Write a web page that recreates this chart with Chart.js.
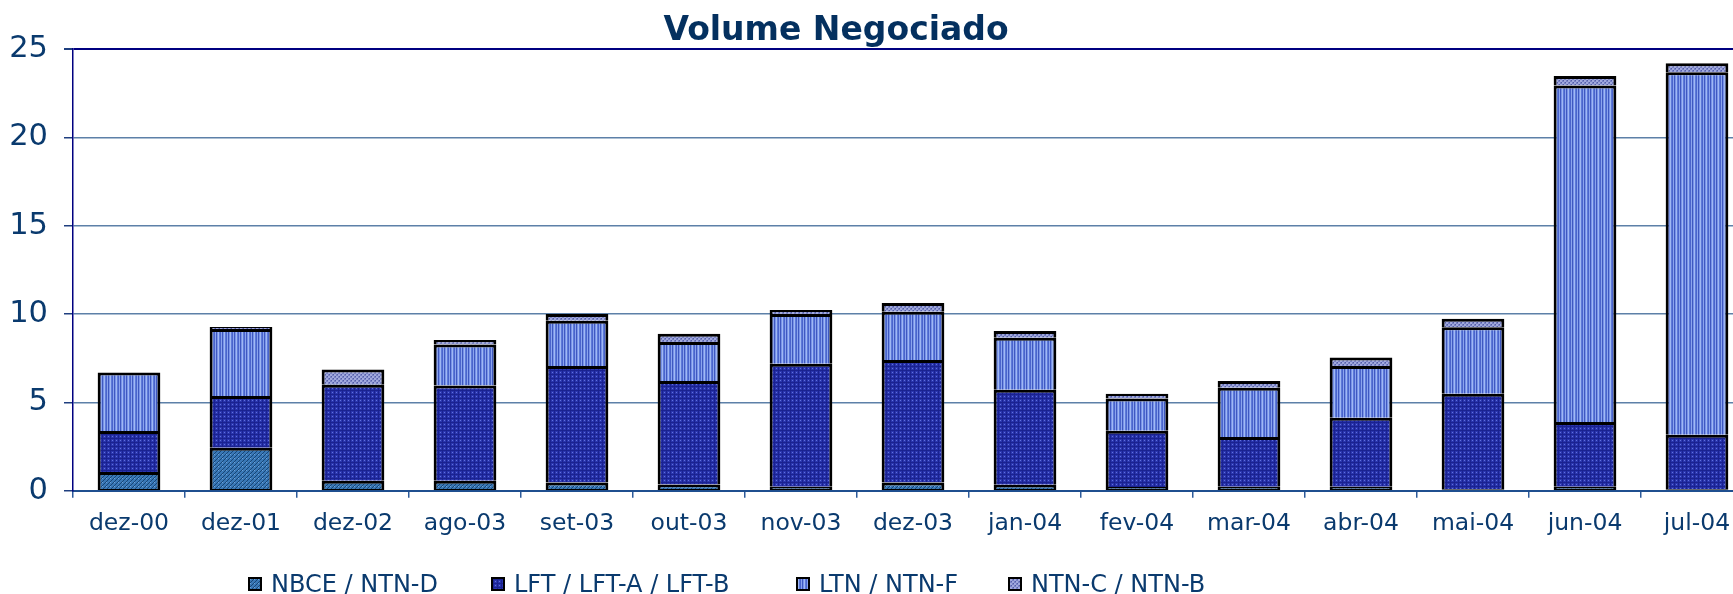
<!DOCTYPE html>
<html lang="pt">
<head>
<meta charset="utf-8">
<title>Volume Negociado</title>
<script src="https://cdn.jsdelivr.net/npm/chart.js@4/dist/chart.umd.min.js"></script>
<style>
  html, body { margin: 0; padding: 0; background: #fff; overflow: hidden; }
  #wrap { position: relative; width: 1733px; height: 594px; overflow: hidden; }
  #grafico { position: absolute; left: 0; top: 0; }
  #titulo {
    position: absolute; left: 0; top: 9px; width: 1672px; text-align: center;
    font: bold 33px/40px "DejaVu Sans", Verdana, sans-serif; color: #04305f;
  }
  #leyenda { position: absolute; left: 0; top: 0; width: 1733px; height: 594px; pointer-events: none; }
  .item { position: absolute; top: 572px; height: 24px; display: flex; align-items: center;
    font: 24px/24px "DejaVu Sans", Verdana, sans-serif; color: #0a3a6e; white-space: nowrap; }
  .item canvas { width: 14px; height: 14px; margin-right: 9px; }
</style>
</head>
<body>
<div id="wrap">
  <canvas id="grafico" width="1760" height="594"></canvas>
  <div id="titulo">Volume Negociado</div>
  <div id="leyenda"></div>
</div>
<script>
// ---- Datos ----
const categorias = ["dez-00", "dez-01", "dez-02", "ago-03", "set-03", "out-03", "nov-03", "dez-03",
  "jan-04", "fev-04", "mar-04", "abr-04", "mai-04", "jun-04", "jul-04"];
const nbceNtnD = [1.06, 2.43, 0.57, 0.57, 0.47, 0.36, 0.23, 0.47, 0.34, 0.21, 0.23, 0.23, 0.09, 0.23, 0.09];
const lftAB    = [2.32, 2.93, 5.43, 5.39, 6.59, 5.85, 6.96, 6.93, 5.38, 3.19, 2.81, 3.90, 5.40, 3.66, 3.08];
const ltnNtnF  = [3.32, 3.79, 0.05, 2.32, 2.56, 2.21, 2.81, 2.73, 2.94, 1.83, 2.79, 2.93, 3.76, 19.05, 20.51];
const ntnCB    = [0, 0.12, 0.81, 0.25, 0.38, 0.47, 0.23, 0.49, 0.38, 0.26, 0.38, 0.49, 0.49, 0.53, 0.51];
const ticksY   = [0, 5, 10, 15, 20, 25];
const nombres  = ["NBCE / NTN-D", "LFT / LFT-A / LFT-B", "LTN / NTN-F", "NTN-C / NTN-B"];

// ---- Tramas tipo Excel ----
function trama(w, h, dibujar) {
  const c = document.createElement("canvas");
  c.width = w; c.height = h;
  dibujar(c.getContext("2d"));
  return c;
}
const tramaNbce = trama(4, 4, g => {
  g.fillStyle = "#3a78b6"; g.fillRect(0, 0, 4, 4);
  g.fillStyle = "#174677";
  for (let i = 0; i < 4; i++) g.fillRect(i, 3 - i, 1, 1);
  g.fillStyle = "#6ea2d8"; g.fillRect(2, 2, 1, 1);
});
const tramaLft = trama(4, 4, g => {
  g.fillStyle = "#2a35ae"; g.fillRect(0, 0, 4, 4);
  g.fillStyle = "#1a2290"; g.fillRect(0, 2, 4, 1); g.fillRect(2, 0, 1, 4);
  g.fillStyle = "#6272dc"; g.fillRect(0, 0, 1, 1);
});
const tramaLtn = trama(6, 2, g => {
  const cols = ["#3f58c0", "#7893e8", "#a0b8f4", "#5d7ad8", "#4a64cc", "#8aa4ee"];
  cols.forEach((c, i) => { g.fillStyle = c; g.fillRect(i, 0, 1, 2); });
});
const tramaNtnC = trama(4, 4, g => {
  g.fillStyle = "#7882c4"; g.fillRect(0, 0, 4, 4);
  g.fillStyle = "#a1a9dd"; g.fillRect(0, 0, 2, 2); g.fillRect(2, 2, 2, 2);
  g.fillStyle = "#545ea8"; g.fillRect(3, 0, 1, 1); g.fillRect(1, 2, 1, 1);
});
const tramas = [tramaNbce, tramaLft, tramaLtn, tramaNtnC];

const ctx = document.getElementById("grafico").getContext("2d");
const rellenos = tramas.map(t => ctx.createPattern(t, "repeat"));

const series = [nbceNtnD, lftAB, ltnNtnF, ntnCB];
const datasets = series.map((valores, i) => ({
  label: nombres[i],
  data: valores,
  backgroundColor: rellenos[i],
  borderColor: "#000",
  borderWidth: { top: 3, left: 3, right: 3, bottom: i === 0 ? 1 : 0 },
  borderSkipped: false,
  barPercentage: 0.56,
  categoryPercentage: 1
}));

const colorTexto = "#0a3a6e";

new Chart(ctx, {
  type: "bar",
  data: { labels: categorias, datasets },
  options: {
    responsive: false,
    animation: false,
    layout: { padding: { left: 0, right: 7, top: 49, bottom: 44 } },
    plugins: { legend: { display: false }, title: { display: false }, tooltip: { enabled: false } },
    scales: {
      x: {
        stacked: true,
        grid: { drawOnChartArea: false, drawTicks: true, tickLength: 7, color: "#2d5a9a", lineWidth: 1.5 },
        border: { color: "#1f4f8f", width: 2 },
        ticks: { color: colorTexto, font: { family: "DejaVu Sans", size: 23.5 }, padding: 12, maxRotation: 0 }
      },
      y: {
        stacked: true,
        min: 0,
        max: 25,
        afterBuildTicks: s => { s.ticks = ticksY.map(v => ({ value: v })); },
        afterFit: s => { s.width = 73; },
        grid: {
          color: c => (c.tick && c.tick.value === 25 ? "#000080" : "#5d80a8"),
          lineWidth: c => (c.tick && c.tick.value === 25 ? 2 : 1.5),
          tickLength: 9,
          tickColor: "#1f3f7f"
        },
        border: { color: "#000080", width: 1.5 },
        ticks: { color: colorTexto, font: { family: "DejaVu Sans", size: 30.5 }, padding: 16 }
      }
    }
  }
});

// ---- Leyenda ----
const posLeyenda = [248, 491, 796, 1008];
const leyenda = document.getElementById("leyenda");
nombres.forEach((n, i) => {
  const item = document.createElement("div");
  item.className = "item";
  item.style.left = posLeyenda[i] + "px";
  const caja = document.createElement("canvas");
  caja.width = 14; caja.height = 14;
  const g = caja.getContext("2d");
  g.fillStyle = g.createPattern(tramas[i], "repeat");
  g.fillRect(0, 0, 14, 14);
  g.strokeStyle = "#000"; g.lineWidth = 2; g.strokeRect(1, 1, 12, 12);
  const txt = document.createElement("span");
  txt.textContent = n;
  item.appendChild(caja);
  item.appendChild(txt);
  leyenda.appendChild(item);
});
</script>
</body>
</html>
